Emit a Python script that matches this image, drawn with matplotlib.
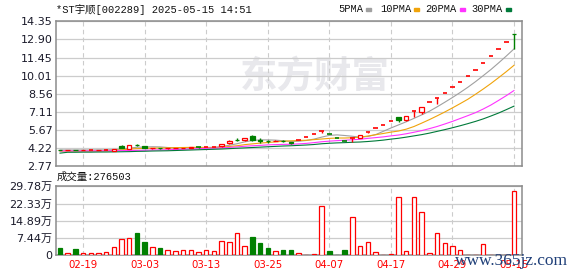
import matplotlib
matplotlib.use("Agg")
import matplotlib.pyplot as plt
import numpy as np

# daily data (price in yuan, volume in shares)
dates = ["02-14", "02-17", "02-18", "02-19", "02-20", "02-21", "02-24", "02-25", "02-26", "02-27",
         "02-28", "03-03", "03-04", "03-05", "03-06", "03-07", "03-10", "03-11", "03-12", "03-13",
         "03-14", "03-17", "03-18", "03-19", "03-20", "03-21", "03-24", "03-25", "03-26", "03-27",
         "03-28", "03-31", "04-01", "04-02", "04-03", "04-07", "04-08", "04-09", "04-10", "04-11",
         "04-14", "04-15", "04-16", "04-17", "04-18", "04-21", "04-22", "04-23", "04-24", "04-25",
         "04-28", "04-29", "04-30", "05-06", "05-07", "05-08", "05-09", "05-12", "05-13", "05-15"]
opens = [4.06, 4.03, 4.07, 4.03, 4.05, 4.06, 4.08, 3.99, 4.35, 4.17,
         4.46, 4.38, 4.18, 4.23, 4.18, 4.19, 4.20, 4.20, 4.28, 4.27,
         4.28, 4.35, 4.58, 4.87, 4.82, 5.20, 4.83, 4.78, 4.76, 4.78,
         4.66, 4.83, 5.07, 5.32, 5.58, 5.30, 5.04, 4.79, 5.03, 5.00,
         5.52, 5.80, 6.09, 6.39, 6.67, 6.42, 7.14, 7.10, 7.86, 8.22,
         8.62, 9.06, 9.50, 9.97, 10.45, 11.00, 11.55, 12.12, 12.72, 13.36]
highs = [4.08, 4.07, 4.08, 4.07, 4.08, 4.09, 4.10, 4.15, 4.43, 4.46,
         4.57, 4.40, 4.25, 4.24, 4.22, 4.22, 4.24, 4.28, 4.32, 4.29,
         4.30, 4.55, 4.82, 4.98, 5.05, 5.22, 5.02, 4.88, 4.82, 4.84,
         4.67, 4.83, 5.07, 5.32, 5.58, 5.30, 5.04, 4.79, 5.03, 5.28,
         5.52, 5.80, 6.09, 6.39, 6.71, 6.80, 7.14, 7.50, 7.86, 8.22,
         8.62, 9.06, 9.50, 9.97, 10.45, 11.00, 11.55, 12.12, 12.72, 13.36]
lows = [4.02, 4.02, 4.02, 4.02, 4.04, 4.05, 4.06, 3.98, 4.20, 4.16,
        4.38, 4.18, 4.15, 4.17, 4.16, 4.18, 4.19, 4.19, 4.23, 4.26,
        4.26, 4.33, 4.56, 4.75, 4.80, 4.80, 4.65, 4.62, 4.74, 4.72,
        4.56, 4.83, 5.07, 5.32, 5.38, 5.30, 5.04, 4.79, 4.72, 4.98,
        5.42, 5.80, 6.09, 6.39, 6.27, 6.40, 6.70, 6.93, 7.86, 7.74,
        8.62, 9.06, 9.50, 9.97, 10.45, 11.00, 11.55, 12.12, 12.72, 12.12]
closes = [4.04, 4.06, 4.03, 4.05, 4.06, 4.08, 4.09, 4.14, 4.22, 4.45,
          4.44, 4.20, 4.23, 4.19, 4.20, 4.21, 4.23, 4.27, 4.27, 4.28,
          4.29, 4.53, 4.80, 4.85, 5.04, 4.83, 4.80, 4.76, 4.79, 4.76,
          4.60, 4.83, 5.07, 5.32, 5.58, 5.30, 5.04, 4.79, 5.03, 5.26,
          5.52, 5.80, 6.09, 6.39, 6.48, 6.80, 7.14, 7.49, 7.86, 8.22,
          8.62, 9.06, 9.50, 9.97, 10.45, 11.00, 11.55, 12.12, 12.72, 13.33]
volumes = [30000, 11500, 26000, 11500, 8600, 11500, 16000, 37000, 72000, 76000,
           95000, 56000, 37000, 30000, 24000, 20000, 24000, 24000, 16000, 24000,
           20000, 63000, 59000, 97500, 42000, 77000, 52000, 30000, 20000, 21500,
           21500, 10000, 3000, 7000, 214000, 17000, 3000, 21500, 166000, 42000,
           59000, 16000, 3000, 7000, 252000, 20000, 252000, 188000, 11500, 97500,
           54000, 42000, 24000, 3000, 3000, 50000, 3000, 3000, 3000, 276503]

# moving averages
ma5 = [4.05, 4.05, 4.05, 4.05, 4.05, 4.06, 4.06, 4.08, 4.12, 4.20,
       4.27, 4.29, 4.31, 4.30, 4.25, 4.21, 4.21, 4.22, 4.24, 4.25,
       4.27, 4.33, 4.43, 4.55, 4.70, 4.81, 4.86, 4.86, 4.84, 4.79,
       4.74, 4.75, 4.81, 4.92, 5.08, 5.22, 5.26, 5.21, 5.15, 5.08,
       5.13, 5.28, 5.54, 5.81, 6.06, 6.31, 6.58, 6.86, 7.15, 7.50,
       7.87, 8.25, 8.65, 9.07, 9.52, 10.00, 10.49, 11.02, 11.57, 12.14]
ma10 = [3.96, 3.96, 3.96, 3.96, 3.96, 3.97, 3.98, 4.00, 4.05, 4.12,
        4.16, 4.18, 4.20, 4.21, 4.22, 4.24, 4.25, 4.26, 4.27, 4.25,
        4.24, 4.27, 4.33, 4.39, 4.48, 4.54, 4.60, 4.65, 4.70, 4.75,
        4.78, 4.81, 4.83, 4.88, 4.93, 4.98, 5.01, 5.01, 5.03, 5.08,
        5.17, 5.27, 5.37, 5.48, 5.57, 5.72, 5.93, 6.20, 6.48, 6.78,
        7.09, 7.42, 7.76, 8.11, 8.51, 8.93, 9.37, 9.84, 10.32, 10.83]
ma20 = [3.98, 3.98, 3.98, 3.98, 3.98, 3.98, 3.99, 3.99, 4.00, 4.01,
        4.02, 4.03, 4.05, 4.06, 4.07, 4.09, 4.11, 4.13, 4.15, 4.19,
        4.20, 4.22, 4.26, 4.30, 4.35, 4.39, 4.42, 4.46, 4.48, 4.50,
        4.51, 4.54, 4.58, 4.64, 4.71, 4.76, 4.80, 4.83, 4.87, 4.91,
        4.98, 5.04, 5.10, 5.18, 5.25, 5.35, 5.47, 5.60, 5.76, 5.93,
        6.13, 6.34, 6.57, 6.80, 7.04, 7.33, 7.65, 8.02, 8.40, 8.81]
ma30 = [3.80, 3.87, 3.87, 3.88, 3.88, 3.89, 3.89, 3.90, 3.91, 3.92,
        3.94, 3.95, 3.97, 3.98, 3.99, 4.01, 4.03, 4.05, 4.07, 4.09,
        4.11, 4.13, 4.16, 4.19, 4.22, 4.25, 4.28, 4.31, 4.34, 4.37,
        4.39, 4.42, 4.45, 4.49, 4.55, 4.59, 4.62, 4.64, 4.67, 4.69,
        4.73, 4.78, 4.84, 4.92, 4.99, 5.08, 5.18, 5.28, 5.40, 5.54,
        5.68, 5.83, 5.99, 6.16, 6.34, 6.54, 6.77, 7.01, 7.28, 7.56]

price_ticks = [2.77, 4.22, 5.67, 7.11, 8.56, 10.01, 11.45, 12.90, 14.35]
vol_ticks = [0, 74400, 148900, 223300, 297800]
vol_tick_labels = ["0", "7.44万", "14.89万", "22.33万", "29.78万"]
date_tick_idx = [3, 11, 19, 27, 35, 43, 51, 59]

RED = "#ff0000"
GREEN = "#008000"
MA_COLORS = ["#a0a0a0", "#f0a30a", "#ff33ff", "#007a3a"]
GRID = "#cccccc"
SPINE = "#8c8c8c"
CJK = ["DejaVu Sans", "Noto Sans CJK SC"]
MONO = ["Liberation Mono", "Noto Sans CJK SC"]

W, H = 578, 276


def box(l, t, r, b):
    return [l / W, 1 - b / H, (r - l) / W, (b - t) / H]


fig = plt.figure(figsize=(W / 100, H / 100), dpi=100)
ax = fig.add_axes(box(56, 21.3, 522.3, 166))
axv = fig.add_axes(box(56, 186.3, 522.3, 255.3))

x = np.arange(len(closes))
o = np.array(opens)
c = np.array(closes)
h = np.array(highs)
lo = np.array(lows)
prev = np.concatenate([[o[0]], c[:-1]])
up_day = c >= prev
red_candle = (c > o) | ((c == o) & up_day)

# watermark
ax.text(0.555, 0.615, "东方财富", transform=ax.transAxes, fontsize=27, color="#e8e8ec",
        family="Noto Sans CJK SC", fontweight="bold", ha="center", va="center", zorder=0)

# moving averages
for ma, col in zip([ma5, ma10, ma20, ma30], MA_COLORS):
    ax.plot(x, ma, color=col, lw=0.8, zorder=2)

# candles
bw = 0.58
body_lo = np.minimum(o, c)
body_hi = np.maximum(o, c)
for i in range(len(x)):
    col = RED if red_candle[i] else GREEN
    ax.vlines(x[i], lo[i], body_lo[i], color=col, lw=1.0, zorder=3)
    ax.vlines(x[i], body_hi[i], h[i], color=col, lw=1.0, zorder=3)
    if abs(c[i] - o[i]) < 0.015:
        ax.hlines(c[i], x[i] - bw / 2, x[i] + bw / 2, color=col, lw=1.2, zorder=4)
    else:
        ax.bar(x[i], body_hi[i] - body_lo[i], bottom=body_lo[i], width=bw,
               facecolor="white" if col == RED else col, edgecolor=col, lw=0.9, zorder=4)

# volume
for i in range(len(x)):
    col = RED if up_day[i] else GREEN
    axv.bar(x[i], volumes[i], width=bw, facecolor="white" if up_day[i] else col,
            edgecolor=col, lw=0.9, zorder=3)

for a in (ax, axv):
    a.set_xlim(-0.52, 60.08)
    a.set_xticks(date_tick_idx)
    a.grid(True, axis="x", color=GRID, ls=(0, (4, 3)), lw=0.8)
    a.grid(True, axis="y", color=GRID, ls="-", lw=0.9)
    a.set_axisbelow(True)
    for s in a.spines.values():
        s.set_color(SPINE)
        s.set_linewidth(1.1)
    a.tick_params(length=0, pad=2.5, labelsize=8, colors="#1a1a2a")

ax.set_ylim(price_ticks[0], price_ticks[-1])
ax.set_yticks(price_ticks)
ax.set_yticklabels([f"{p:.2f}" for p in price_ticks])
ax.set_xticklabels([])

axv.set_ylim(0, vol_ticks[-1])
axv.set_yticks(vol_ticks)
axv.set_yticklabels(vol_tick_labels, family=CJK)
axv.set_xticklabels([dates[i] for i in date_tick_idx], color=RED, fontsize=7.3)
axv.tick_params(axis="x", pad=3.5)

# header texts
fig.text(56 / W, 1 - 9.5 / H, "*ST宇顺[002289] 2025-05-15 14:51", family=MONO,
         fontsize=7.5, va="center", ha="left", color="#111111")
legend_x = [338, 380.3, 425.7, 471.7]
for lx, name, col in zip(legend_x, ["5PMA", "10PMA", "20PMA", "30PMA"], MA_COLORS):
    fig.text(lx / W, 1 - 9.5 / H, name, family=MONO, fontsize=7.5,
             va="center", ha="left", color="#111111")
    sw = lx + len(name) * 6.2 + 3
    fig.patches.append(plt.Rectangle((sw / W, 1 - 11 / H), 5 / W, 3 / H,
                                     transform=fig.transFigure, color=col))

fig.text(57 / W, 1 - 177 / H, "成交量:276503", family=MONO, fontsize=7.5,
         va="center", ha="left", color="#111111")

# site watermark
fig.text(455 / W, 1 - 261 / H, "www.365jz.com", family="Liberation Serif",
         fontsize=12.5, va="center", ha="left", color="#1f3f78")

fig.savefig("out.png", dpi=100)
